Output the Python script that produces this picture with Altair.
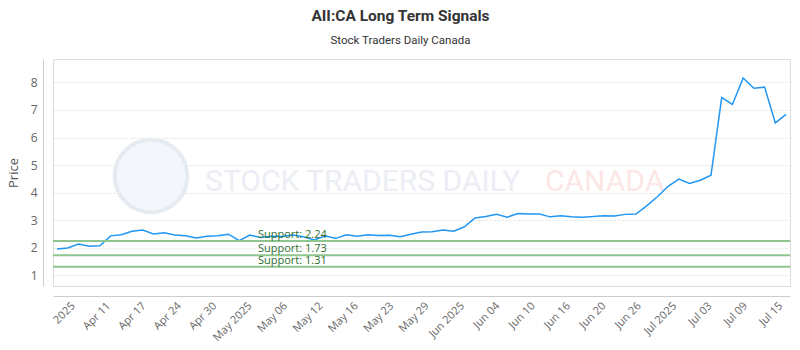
import json
import altair as alt
import pandas as pd

# ---- data -------------------------------------------------------------
prices = [1.95, 1.99, 2.13, 2.05, 2.07, 2.43, 2.47, 2.60, 2.64, 2.50,
          2.54, 2.46, 2.43, 2.35, 2.42, 2.43, 2.49, 2.26, 2.46, 2.37,
          2.42, 2.41, 2.46, 2.40, 2.28, 2.42, 2.34, 2.47, 2.42, 2.47,
          2.44, 2.45, 2.40, 2.49, 2.57, 2.58, 2.64, 2.60, 2.76, 3.08,
          3.13, 3.21, 3.11, 3.24, 3.22, 3.22, 3.12, 3.16, 3.12, 3.11,
          3.13, 3.16, 3.15, 3.21, 3.22, 3.52, 3.85, 4.23, 4.49, 4.33,
          4.45, 4.63, 7.45, 7.20, 8.16, 7.79, 7.83, 6.53, 6.84]

support_levels = [2.24, 1.73, 1.31]
support_labels = ["Support: 2.24", "Support: 1.73", "Support: 1.31"]

tick_pos = [1.5, 4.8, 8.1, 11.4, 14.7, 18.0, 21.3, 24.6, 27.9, 31.2, 34.5,
            37.8, 41.1, 44.4, 47.7, 51.0, 54.3, 57.6, 60.9, 64.2, 67.5]
tick_labels = ["2025", "Apr 11", "Apr 17", "Apr 24", "Apr 30", "May 2025",
               "May 06", "May 12", "May 16", "May 23", "May 29", "Jun 2025",
               "Jun 04", "Jun 10", "Jun 16", "Jun 20", "Jun 26", "Jul 2025",
               "Jul 03", "Jul 09", "Jul 15"]

y_ticks = [1, 2, 3, 4, 5, 6, 7, 8]

# ---- tables -----------------------------------------------------------
df = pd.DataFrame({"idx": list(range(len(prices))), "price": prices})
sup = pd.DataFrame({"level": support_levels, "label": support_labels})

label_expr = (json.dumps(tick_labels) + "[indexof("
              + json.dumps([int(round(p * 10)) for p in tick_pos])
              + ", round(datum.value*10))]")

COND = "Roboto, sans-serif"
BODY = "'Open Sans', sans-serif"

x_scale = alt.Scale(domain=[-0.37, 68.37], nice=False, zero=False)
y_scale = alt.Scale(domain=[0.61, 8.85], nice=False, zero=False)

x_axis = alt.Axis(values=tick_pos, labelExpr=label_expr, labelAngle=-45,
                  labelAlign="right", labelBaseline="middle", tickSize=0,
                  labelPadding=8, domainColor="#cccccc", offset=10, grid=False,
                  title=None, labelFont=BODY, labelFontSize=11,
                  labelColor="#666666", labelOverlap=False, labelFlush=False,
                  labelBound=False)
y_axis = alt.Axis(values=y_ticks, title="Price", offset=10, tickSize=0,
                  domainColor="#cccccc", grid=True, gridDash=[2, 2],
                  gridColor="#e0e0e0", labelPadding=6, labelFont=BODY,
                  labelFontSize=12, labelColor="#666666", titleFont=BODY,
                  titleFontSize=13, titleFontWeight="normal",
                  titleColor="#555555", titlePadding=10, labelOverlap=False,
                  labelFlush=False, labelBound=False)

base = alt.Chart(df)

# watermark (decoration)
logo = base.mark_point(shape="circle", filled=True, fill="#f3f6fa",
                       stroke="#e6ebf2", strokeWidth=4, opacity=1).encode(
    x=alt.value(98), y=alt.value(117), size=alt.value(5280)
).transform_filter("datum.idx == 0")
wm1 = base.mark_text(text="STOCK TRADERS DAILY", font=COND, fontSize=30,
                     align="left", baseline="alphabetic",
                     color="#ebeef4").encode(
    x=alt.value(152), y=alt.value(132)
).transform_filter("datum.idx == 0")
wm2 = base.mark_text(text="CANADA", font=COND, fontSize=30,
                     align="left", baseline="alphabetic",
                     color="#fde6e6").encode(
    x=alt.value(492), y=alt.value(132)
).transform_filter("datum.idx == 0")

line = base.mark_line(color="#2196f3", strokeWidth=1.5).encode(
    x=alt.X("idx:Q", scale=x_scale, axis=x_axis),
    y=alt.Y("price:Q", scale=y_scale, axis=y_axis),
)

rules = alt.Chart(sup).mark_rule(color="#8fc68f", strokeWidth=2).encode(
    y=alt.Y("level:Q", scale=y_scale, axis=y_axis)
)
rule_text = alt.Chart(sup).mark_text(align="left", baseline="alphabetic",
                                     dy=-3, font=BODY, fontSize=11,
                                     color="#2f6e2f").encode(
    x=alt.value(205), y=alt.Y("level:Q", scale=y_scale, axis=y_axis),
    text="label:N"
)

chart = alt.layer(logo, wm1, wm2, line, rules, rule_text).properties(
    width=737, height=227,
    autosize=alt.AutoSizeParams(type="none"),
    padding={"left": 53, "top": 59, "right": 10, "bottom": 64},
    title=alt.TitleParams(
        text="AII:CA Long Term Signals",
        subtitle="Stock Traders Daily Canada",
        anchor="middle", dx=-21, font=COND, fontSize=15.5, fontWeight="bold",
        color="#333333", subtitleFont=COND, subtitleFontSize=11.5,
        subtitleColor="#333333", subtitlePadding=10, offset=13,
    ),
).configure_view(stroke="#777777", strokeWidth=1).configure(
    background="white")

chart.save("out.html", embed_options={"renderer": "svg", "actions": False})
